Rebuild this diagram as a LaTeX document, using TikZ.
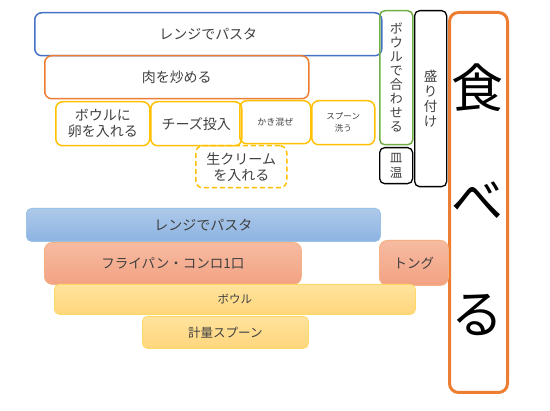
\documentclass[tikz,border=0pt]{standalone}
\usepackage{fontspec}
\setmainfont{Noto Sans CJK JP}
\definecolor{cblue}{HTML}{4472C4}
\definecolor{corange}{HTML}{ED7D31}
\definecolor{cyellow}{HTML}{FFC000}
\definecolor{cgreen}{HTML}{70AD47}
\definecolor{ctext}{HTML}{404040}
\definecolor{bluetop}{HTML}{AEC9E9}
\definecolor{bluebot}{HTML}{8DB3E2}
\definecolor{blueline}{HTML}{9DC3E6}
\definecolor{saltop}{HTML}{F6BBA1}
\definecolor{salbot}{HTML}{F3A283}
\definecolor{salline}{HTML}{F4B183}
\definecolor{yeltop}{HTML}{FFE39D}
\definecolor{yelbot}{HTML}{FFD67C}
\definecolor{yelline}{HTML}{FFD966}
\tikzset{
  base/.style={rounded corners=7pt, anchor=north west, inner sep=0pt, align=center, text=ctext, font=\fontsize{14}{16}\selectfont},
  bluebox/.style={base, draw=cblue, line width=1.5pt},
  orangebox/.style={base, draw=corange, line width=1.5pt},
  yellowbox/.style={base, draw=cyellow, line width=1.5pt},
  greenbox/.style={base, draw=cgreen, line width=1.5pt},
  blackbox/.style={base, draw=black, line width=1.3pt, rounded corners=5pt},
  eatbox/.style={base, draw=corange, line width=3pt, rounded corners=9pt},
  bluefill/.style={base, draw=blueline, line width=0.8pt, top color=bluetop, bottom color=bluebot, rounded corners=5pt},
  salfill/.style={base, draw=salline, line width=0.8pt, top color=saltop, bottom color=salbot, rounded corners=8pt},
  yelfill/.style={base, draw=yelline, line width=0.8pt, top color=yeltop, bottom color=yelbot, rounded corners=5pt},
  bigchar/.style={font=\fontsize{52}{56}\selectfont, text=black, inner sep=0pt}
}
\begin{document}
\begin{tikzpicture}[x=1pt,y=-1pt]
\useasboundingbox (0,0) rectangle (550,411);
% top section
\node[bluebox, minimum width=347pt, minimum height=43pt] (pasta) at (34,12) {レンジでパスタ};
\node[orangebox, minimum width=264pt, minimum height=43pt] (niku) at (44,55) {肉を炒める};
\node[yellowbox, minimum width=94pt, minimum height=44pt] (tamago) at (55,101) {ボウルに\\卵を入れる};
\node[yellowbox, minimum width=91pt, minimum height=44pt] (cheese) at (150,101) {チーズ投入};
\node[yellowbox, minimum width=71pt, minimum height=43pt, font=\fontsize{9}{11}\selectfont] (kaki) at (239,100) {かき混ぜ};
\node[yellowbox, minimum width=63pt, minimum height=44pt, font=\fontsize{8.5}{12}\selectfont] (spoon) at (311,100) {スプーン\\洗う};
\node[yellowbox, dashed, dash pattern=on 5pt off 3pt, minimum width=91pt, minimum height=42pt] (cream) at (195,145) {生クリーム\\を入れる};
% right column
\node[greenbox, minimum width=33pt, minimum height=134pt, rounded corners=5pt, font=\fontsize{13}{14}\selectfont] (awase) at (379,10) {ボ\\ウ\\ル\\で\\合\\わ\\せ\\る};
\node[blackbox, minimum width=33pt, minimum height=36pt, font=\fontsize{12.5}{15}\selectfont] (sara) at (379,147) {皿\\温};
\node[blackbox, minimum width=32pt, minimum height=176pt, font=\fontsize{13.5}{15}\selectfont] (mori) at (414,10) {盛\\り\\付\\け};
\node[eatbox, minimum width=58pt, minimum height=380pt] (taberu) at (448,11) {};
\node[bigchar] (c1) at (477,88) {食};
\node[bigchar] (c2) at (477,201) {べ};
\node[bigchar] (c3) at (477,315) {る};
% bottom section
\node[bluefill, minimum width=354pt, minimum height=33pt] (pasta2) at (26,208) {レンジでパスタ};
\node[salfill, minimum width=257pt, minimum height=42pt, font=\fontsize{13.5}{16}\selectfont] (fry) at (44,242) {フライパン・コンロ1口};
\node[salfill, minimum width=69pt, minimum height=45pt, font=\fontsize{13.5}{16}\selectfont] (tong) at (379,240) {トング};
\node[yelfill, minimum width=361pt, minimum height=30pt, font=\fontsize{11.5}{13}\selectfont] (bowl) at (54,284) {ボウル};
\node[yelfill, minimum width=166pt, minimum height=32pt, font=\fontsize{12.5}{14}\selectfont] (keiryo) at (142,316) {計量スプーン};
\end{tikzpicture}
\end{document}
